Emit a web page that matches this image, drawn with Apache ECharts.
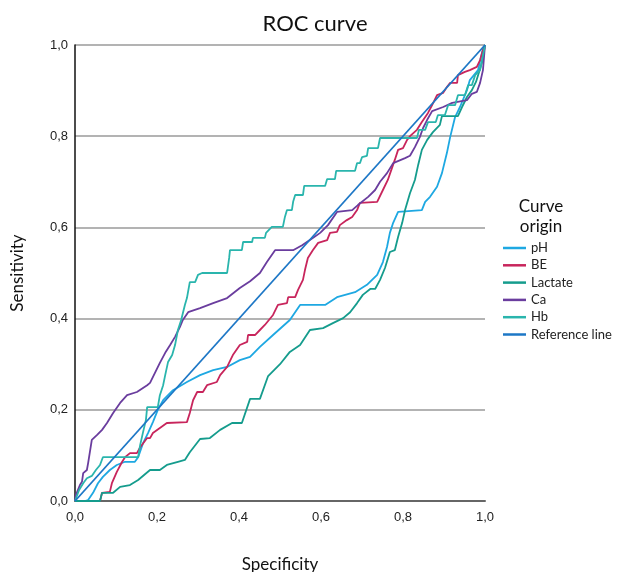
<!DOCTYPE html>
<html>
<head>
<meta charset="utf-8">
<script src="https://cdn.jsdelivr.net/npm/echarts@6/dist/echarts.min.js"></script>
<style>
  html, body { margin: 0; padding: 0; background: #fff; }
  #roc { width: 622px; height: 572px; }
</style>
</head>
<body>
<div id="roc"></div>
<script type="text/javascript">
// 曲线数据: [specificity, sensitivity]
var seriesNames = ['pH', 'BE', 'Lactate', 'Ca', 'Hb', 'Reference line']
var seriesColors = ['#1ea8e2', '#c8255c', '#159c8d', '#6a3d9e', '#2ab5ad', '#1d77c6']
var yTicks = [0, 0.2, 0.4, 0.6, 0.8, 1.0]

var phData = [[0,0],[0.024,0],[0.032,0.002],[0.044,0.018],[0.056,0.039],[0.068,0.053],[0.085,0.068],[0.102,0.079],[0.122,0.086],[0.146,0.086],[0.154,0.096],[0.166,0.127],[0.178,0.149],[0.190,0.173],[0.202,0.200],[0.215,0.221],[0.239,0.243],[0.273,0.261],[0.305,0.276],[0.337,0.287],[0.371,0.294],[0.402,0.309],[0.427,0.316],[0.451,0.338],[0.483,0.364],[0.524,0.397],[0.549,0.430],[0.610,0.430],[0.639,0.447],[0.683,0.458],[0.712,0.474],[0.737,0.496],[0.751,0.524],[0.761,0.557],[0.768,0.588],[0.776,0.610],[0.788,0.634],[0.846,0.638],[0.854,0.656],[0.866,0.667],[0.883,0.689],[0.895,0.719],[0.907,0.763],[0.915,0.798],[0.927,0.842],[0.939,0.864],[0.956,0.901],[0.963,0.923],[0.983,0.945],[0.993,0.985],[1,1]]

var beData = [[0,0],[0.061,0],[0.066,0.018],[0.085,0.020],[0.090,0.039],[0.102,0.064],[0.115,0.086],[0.122,0.096],[0.134,0.105],[0.151,0.105],[0.159,0.118],[0.176,0.138],[0.183,0.138],[0.190,0.149],[0.207,0.160],[0.224,0.171],[0.273,0.173],[0.280,0.193],[0.288,0.221],[0.298,0.239],[0.312,0.239],[0.322,0.254],[0.346,0.261],[0.354,0.276],[0.371,0.294],[0.385,0.320],[0.402,0.342],[0.420,0.349],[0.422,0.364],[0.439,0.364],[0.451,0.375],[0.463,0.386],[0.483,0.408],[0.495,0.430],[0.517,0.434],[0.520,0.447],[0.537,0.447],[0.544,0.463],[0.556,0.485],[0.561,0.507],[0.568,0.533],[0.580,0.550],[0.593,0.566],[0.615,0.572],[0.622,0.588],[0.639,0.590],[0.646,0.605],[0.663,0.616],[0.676,0.623],[0.688,0.638],[0.695,0.654],[0.737,0.656],[0.751,0.682],[0.763,0.704],[0.773,0.730],[0.780,0.748],[0.788,0.770],[0.800,0.774],[0.810,0.792],[0.817,0.800],[0.834,0.814],[0.846,0.831],[0.861,0.851],[0.871,0.868],[0.883,0.890],[0.898,0.895],[0.907,0.908],[0.915,0.917],[0.932,0.917],[0.934,0.934],[0.951,0.941],[0.963,0.945],[0.980,0.952],[0.988,0.967],[0.995,0.989],[1,1]]

var lactateData = [[0,0],[0.061,0],[0.066,0.018],[0.093,0.018],[0.110,0.031],[0.134,0.035],[0.154,0.046],[0.183,0.068],[0.207,0.068],[0.224,0.079],[0.251,0.086],[0.268,0.090],[0.280,0.107],[0.305,0.136],[0.329,0.138],[0.354,0.156],[0.383,0.171],[0.407,0.171],[0.427,0.224],[0.451,0.224],[0.471,0.274],[0.500,0.300],[0.524,0.327],[0.549,0.342],[0.573,0.375],[0.605,0.379],[0.629,0.390],[0.654,0.401],[0.671,0.414],[0.688,0.434],[0.702,0.452],[0.720,0.465],[0.732,0.465],[0.744,0.485],[0.756,0.511],[0.768,0.546],[0.780,0.550],[0.788,0.579],[0.798,0.610],[0.805,0.638],[0.817,0.675],[0.829,0.704],[0.837,0.737],[0.846,0.770],[0.859,0.792],[0.873,0.809],[0.890,0.825],[0.895,0.844],[0.934,0.844],[0.944,0.864],[0.956,0.886],[0.968,0.901],[0.978,0.919],[0.985,0.939],[0.993,0.963],[1,1]]

var caData = [[0,0],[0.002,0.013],[0.007,0.024],[0.012,0.035],[0.017,0.042],[0.020,0.061],[0.029,0.068],[0.032,0.083],[0.041,0.134],[0.054,0.145],[0.066,0.156],[0.078,0.171],[0.093,0.193],[0.110,0.215],[0.127,0.232],[0.151,0.239],[0.176,0.254],[0.183,0.259],[0.195,0.281],[0.207,0.303],[0.220,0.325],[0.232,0.342],[0.244,0.360],[0.256,0.382],[0.263,0.397],[0.276,0.414],[0.305,0.423],[0.337,0.434],[0.371,0.445],[0.402,0.467],[0.427,0.482],[0.451,0.500],[0.468,0.524],[0.488,0.550],[0.532,0.550],[0.554,0.561],[0.580,0.577],[0.598,0.588],[0.617,0.605],[0.639,0.634],[0.676,0.638],[0.690,0.649],[0.715,0.667],[0.732,0.682],[0.744,0.700],[0.761,0.719],[0.776,0.741],[0.805,0.752],[0.817,0.757],[0.829,0.776],[0.841,0.798],[0.849,0.818],[0.859,0.836],[0.871,0.855],[0.898,0.864],[0.920,0.873],[0.956,0.879],[0.968,0.893],[0.980,0.897],[0.988,0.917],[0.995,0.945],[1,1]]

var hbData = [[0,0],[0.010,0.024],[0.020,0.039],[0.029,0.050],[0.041,0.055],[0.051,0.068],[0.061,0.079],[0.068,0.096],[0.154,0.096],[0.159,0.123],[0.166,0.151],[0.173,0.178],[0.176,0.206],[0.202,0.206],[0.207,0.232],[0.215,0.254],[0.220,0.276],[0.227,0.305],[0.237,0.320],[0.244,0.342],[0.251,0.375],[0.259,0.397],[0.268,0.430],[0.273,0.445],[0.280,0.480],[0.293,0.480],[0.300,0.496],[0.310,0.500],[0.371,0.500],[0.376,0.533],[0.378,0.550],[0.407,0.550],[0.410,0.568],[0.432,0.568],[0.434,0.577],[0.463,0.577],[0.466,0.588],[0.480,0.601],[0.507,0.601],[0.512,0.623],[0.517,0.638],[0.529,0.638],[0.532,0.656],[0.537,0.671],[0.556,0.671],[0.559,0.691],[0.610,0.691],[0.615,0.706],[0.634,0.706],[0.637,0.724],[0.683,0.724],[0.688,0.741],[0.695,0.741],[0.700,0.754],[0.712,0.757],[0.715,0.774],[0.739,0.774],[0.744,0.796],[0.834,0.796],[0.839,0.814],[0.854,0.814],[0.861,0.831],[0.880,0.831],[0.885,0.846],[0.902,0.846],[0.910,0.868],[0.927,0.868],[0.934,0.890],[0.951,0.890],[0.959,0.912],[0.968,0.912],[0.976,0.934],[0.988,0.945],[1,1]]

var refData = [[0,0],[1,1]]

var allData = [phData, beData, lactateData, caData, hbData, refData]

var rocChart = echarts.init(document.getElementById('roc'))

var fmt = function (v) { return v.toFixed(1).replace('.', ',') }

var rocOption = {
    backgroundColor: '#fff',
    animation: false,
    title: [
        {
            text: 'ROC curve',
            left: 310,
            top: 8,
            textAlign: 'center',
            textStyle: { fontFamily: 'Lato', fontWeight: 'normal', fontSize: 22, color: '#111' }
        },
        {
            text: 'Curve\norigin',
            left: 536,
            top: 192,
            textAlign: 'center',
            textStyle: { fontFamily: 'Lato', fontWeight: 'normal', fontSize: 17, lineHeight: 20, color: '#111' }
        }
    ],
    legend: {
        orient: 'vertical',
        left: 498,
        top: 236,
        icon: 'rect',
        itemWidth: 23,
        itemHeight: 2.5,
        itemGap: 3.3,
        textStyle: { fontFamily: 'Lato', fontSize: 13, color: '#222', lineHeight: 14 },
        data: seriesNames
    },
    grid: { left: 75, right: 137, top: 45, bottom: 71, outerBoundsMode: 'none', containLabel: false },
    xAxis: {
        type: 'value',
        min: 0,
        max: 1,
        interval: 0.2,
        name: 'Specificity',
        nameLocation: 'middle',
        nameGap: 55,
        nameTextStyle: { fontFamily: 'Lato', fontSize: 17, color: '#111' },
        axisLine: { show: true, lineStyle: { color: '#666', width: 2 } },
        axisTick: { show: false },
        splitLine: { show: false },
        axisLabel: { formatter: fmt, margin: 10, fontFamily: 'Liberation Sans', fontSize: 13, color: '#222' }
    },
    yAxis: {
        type: 'value',
        min: 0,
        max: 1,
        interval: 0.2,
        name: 'Sensitivity',
        nameLocation: 'middle',
        nameGap: 49,
        nameTextStyle: { fontFamily: 'Lato', fontSize: 17, color: '#111' },
        axisLine: { show: true, lineStyle: { color: '#111', width: 1.5 } },
        axisTick: { show: false },
        splitLine: { show: true, lineStyle: { color: '#b3b3b3', width: 2 } },
        axisLabel: { formatter: fmt, margin: 7, fontFamily: 'Liberation Sans', fontSize: 13, color: '#222' }
    },
    series: seriesNames.map(function (name, i) {
        return {
            name: name,
            type: 'line',
            symbol: 'none',
            color: seriesColors[i],
            lineStyle: { color: seriesColors[i], width: 1.8 },
            data: allData[i]
        }
    })
}

rocChart.setOption(rocOption)
window.addEventListener('resize', () => {
    rocChart.resize()
})
</script>
</body>
</html>
